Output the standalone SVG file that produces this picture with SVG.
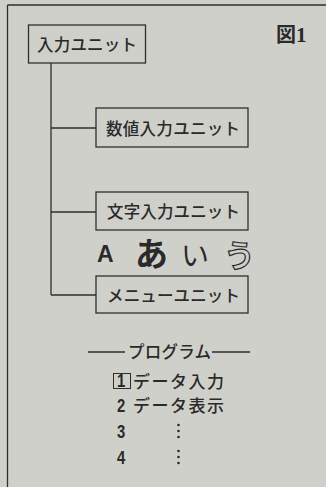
<svg xmlns="http://www.w3.org/2000/svg" width="326" height="487" viewBox="0 0 326 487">
<style>
.bx{fill:none;stroke:#2e2e2e;stroke-width:1.3}
.ln{fill:none;stroke:#2e2e2e;stroke-width:1.3}
.t{font-family:"Noto Sans CJK JP","Noto Sans",sans-serif;font-size:16.5px;fill:#2a2a2a;font-weight:500}
.p{font-family:"Noto Sans CJK JP","Noto Sans",sans-serif;font-size:17px;fill:#2a2a2a;font-weight:500}
.n{font-family:"Liberation Sans",Arial,sans-serif;font-size:19px;font-weight:bold;fill:#2a2a2a}
</style>
<rect width="326" height="487" fill="#d0d0cb"/>
<g id="frame">
<line class="ln" x1="7.5" y1="5" x2="326" y2="5"/>
<line class="ln" x1="7.5" y1="5" x2="7.5" y2="487"/>
</g>
<g id="title">
<text x="276" y="42" font-family="Noto Sans CJK JP,sans-serif" font-size="20" font-weight="bold" fill="#2a2a2a">図<tspan font-family="Liberation Serif,serif" font-size="21">1</tspan></text>
</g>
<g id="connectors">
<line class="ln" x1="51" y1="63" x2="51" y2="295"/>
<line class="ln" x1="51" y1="128" x2="96" y2="128"/>
<line class="ln" x1="51" y1="212" x2="96" y2="212"/>
<line class="ln" x1="51" y1="295" x2="96" y2="295"/>
</g>
<g id="input-unit">
<rect class="bx" x="28.5" y="25" width="117" height="38"/>
<text class="t" x="37" y="51" textLength="100">入力ユニット</text>
</g>
<g id="numeric-input-unit">
<rect class="bx" x="96" y="108" width="152" height="39"/>
<text class="t" x="106" y="135" textLength="134">数値入力ユニット</text>
</g>
<g id="char-input-unit">
<rect class="bx" x="96" y="192" width="152" height="38"/>
<text class="t" x="107" y="218" textLength="133">文字入力ユニット</text>
</g>
<g id="chars">
<text x="97" y="262" font-family="Liberation Sans,Arial,sans-serif" font-size="23" font-weight="bold" fill="#2a2a2a">A</text>
<text x="135" y="266" font-family="Noto Sans CJK JP,sans-serif" font-size="33" font-weight="bold" fill="#2a2a2a">あ</text>
<text x="181" y="266" font-family="Noto Sans CJK JP,sans-serif" font-size="28" fill="#2a2a2a">い</text>
<text x="224" y="267" font-family="Noto Sans CJK JP,sans-serif" font-size="31" font-weight="bold" fill="none" stroke="#2a2a2a" stroke-width="1.2">う</text>
</g>
<g id="menu-unit">
<rect class="bx" x="96" y="276" width="152" height="37"/>
<text class="t" x="107" y="302" textLength="133">メニューユニット</text>
</g>
<g id="program">
<line class="ln" x1="88" y1="352" x2="125" y2="352"/>
<line class="ln" x1="212" y1="352" x2="250" y2="352"/>
<text class="t" x="128" y="358" textLength="83">プログラム</text>
<rect x="113.5" y="373.5" width="17" height="15" fill="none" stroke="#2e2e2e" stroke-width="1"/>
<text class="n" transform="translate(117,387) scale(0.78,1)">1</text>
<text class="p" x="133" y="388" textLength="91">データ入力</text>
<text class="n" transform="translate(117,412) scale(0.78,1)">2</text>
<text class="p" x="133" y="412" textLength="91">データ表示</text>
<text class="n" transform="translate(117,438) scale(0.78,1)">3</text>
<text class="n" transform="translate(117,464) scale(0.78,1)">4</text>
<g fill="#2a2a2a">
<circle cx="178.5" cy="425" r="1.3"/><circle cx="178.5" cy="431" r="1.3"/><circle cx="178.5" cy="437" r="1.3"/>
<circle cx="178.5" cy="451" r="1.3"/><circle cx="178.5" cy="457" r="1.3"/><circle cx="178.5" cy="463" r="1.3"/>
</g>
</g>
</svg>
